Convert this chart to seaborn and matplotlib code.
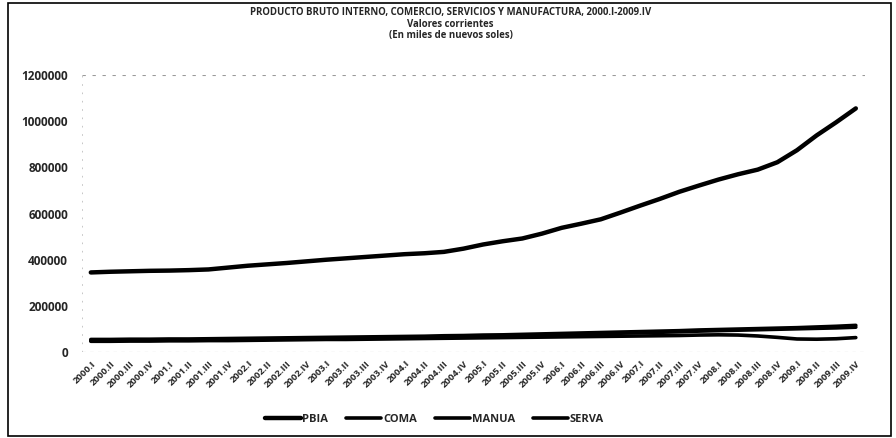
import matplotlib
matplotlib.use("Agg")
import matplotlib.pyplot as plt
import seaborn as sns
import pandas as pd
from matplotlib.patches import Rectangle

# Quarter labels 2000.I - 2009.IV
years = list(range(2000, 2010))
quarters = ["I", "II", "III", "IV"]
periodos = [f"{y}.{q}" for y in years for q in quarters]

# Values in thousands of nuevos soles
pbia = [345000, 348000, 350000, 352000, 353000, 355000, 358000, 366000,
        374000, 380000, 386000, 393000, 400000, 406000, 412000, 418000,
        424000, 428000, 434000, 448000, 466000, 480000, 492000, 513000,
        538000, 556000, 575000, 604000, 634000, 663000, 694000, 721000,
        747000, 770000, 790000, 822000, 874000, 938000, 995000, 1055000]
coma = [55000, 55000, 56000, 56000, 57000, 57000, 58000, 59000,
        60000, 61000, 62000, 63000, 64000, 65000, 66000, 67000,
        68000, 69000, 71000, 72000, 74000, 75000, 77000, 79000,
        81000, 83000, 85000, 87000, 89000, 91000, 93000, 96000,
        98000, 100000, 102000, 104000, 106000, 109000, 112000, 116000]
serva = [50000, 50000, 51000, 51000, 52000, 52000, 53000, 54000,
         55000, 56000, 57000, 58000, 59000, 60000, 61000, 62000,
         63000, 64000, 66000, 67000, 69000, 70000, 72000, 74000,
         76000, 78000, 80000, 82000, 84000, 86000, 88000, 91000,
         93000, 95000, 97000, 99000, 101000, 103000, 105000, 108000]
manua = [47000, 47000, 48000, 48000, 49000, 49000, 50000, 50000,
         51000, 52000, 53000, 54000, 55000, 55000, 56000, 57000,
         58000, 59000, 60000, 61000, 62000, 63000, 64000, 65000,
         66000, 67000, 68000, 69000, 70000, 71000, 72000, 74000,
         75000, 74000, 70000, 64000, 57000, 56000, 58000, 63000]

series = {"PBIA": pbia, "COMA": coma, "MANUA": manua, "SERVA": serva}
df = pd.DataFrame(
    [(i, p, name, v) for name, vals in series.items()
     for i, (p, v) in enumerate(zip(periodos, vals))],
    columns=["idx", "periodo", "serie", "valor"],
)

sns.set_theme(style="white")
plt.rcParams["font.family"] = ["Open Sans", "DejaVu Sans"]
plt.rcParams["font.weight"] = "bold"

fig = plt.figure(figsize=(8.96, 4.38), dpi=100)
ax = fig.add_axes([0.0915, 0.196, 0.8735, 0.633])

widths = {"PBIA": 3.2, "COMA": 2.6, "MANUA": 2.6, "SERVA": 2.6}
for name in series:
    sub = df[df["serie"] == name]
    sns.lineplot(data=sub, x="idx", y="valor", ax=ax, color="black",
                 linewidth=widths[name], label=name, legend=False)

ax.set_xlim(-0.45, 39.45)
ax.set_ylim(0, 1200000)
ax.set_yticks(range(0, 1200001, 200000))
ax.set_yticklabels([str(v) for v in range(0, 1200001, 200000)],
                   fontsize=8.5, fontweight="bold")
ax.set_xticks(range(len(periodos)))
ax.set_xticklabels(periodos, rotation=45, ha="right", rotation_mode="anchor",
                   fontsize=6.8, fontweight="bold")
ax.tick_params(axis="y", length=0, pad=10)
ax.tick_params(axis="x", length=0, pad=5)
ax.set_xlabel("")
ax.set_ylabel("")

for side in ["left", "right", "bottom", "top"]:
    ax.spines[side].set_visible(False)
ax.axhline(1200000, color="#9a9a9a", linewidth=0.8, linestyle=(0, (3, 6)))
ax.axhline(0, color="#9a9a9a", linewidth=0.8, linestyle=(0, (3, 4)))
ax.axvline(-0.45, color="#bdbdbd", linewidth=0.6, linestyle=(0, (2, 8)))

title_kw = dict(ha="center", va="center", fontsize=6.9, fontweight="bold")
fig.text(0.503, 0.972, "PRODUCTO BRUTO INTERNO, COMERCIO, SERVICIOS Y MANUFACTURA, 2000.I-2009.IV", **title_kw)
fig.text(0.503, 0.945, "Valores corrientes", **title_kw)
fig.text(0.503, 0.918, "(En miles de nuevos soles)", **title_kw)

handles, labels = ax.get_legend_handles_labels()
fig.legend(handles, labels, loc="center", bbox_to_anchor=(0.485, 0.042),
           ncol=4, frameon=False, prop={"size": 8, "weight": "bold"},
           handlelength=3.2, handletextpad=0.15, columnspacing=1.6)

# Chart-area border
fig.add_artist(Rectangle((0.009, 0.005), 0.985, 0.988, transform=fig.transFigure,
                         fill=False, edgecolor="black", linewidth=1.2))

fig.savefig("out.png", dpi=100, facecolor="white")
